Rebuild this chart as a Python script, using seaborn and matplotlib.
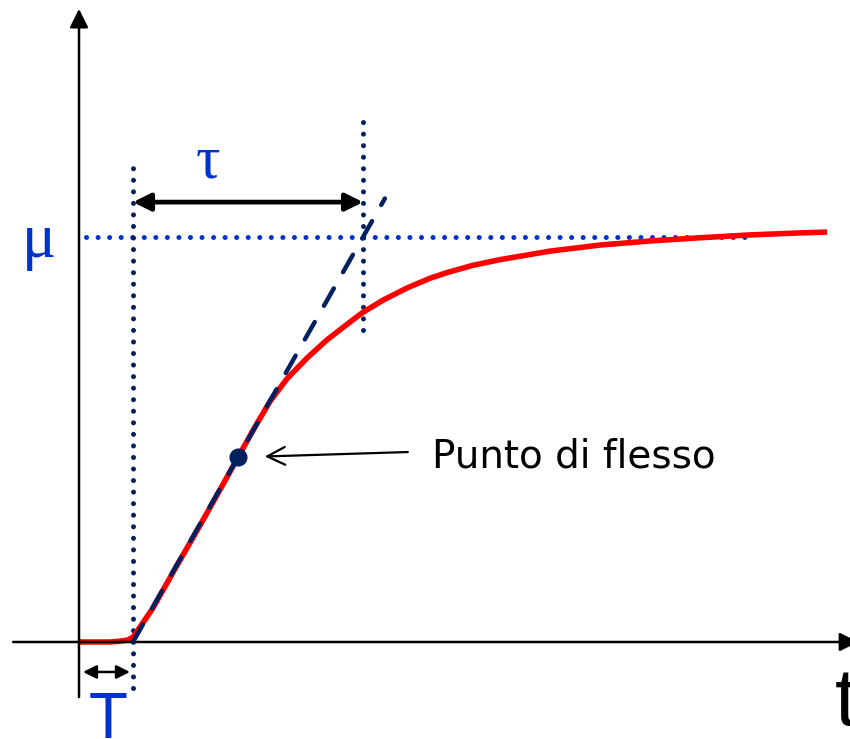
import numpy as np
import pandas as pd
import matplotlib
matplotlib.use("Agg")
import matplotlib.pyplot as plt
import seaborn as sns

# Step response of the process (time in s, output normalised to the final value)
t_resp = [0.000, 0.574, 0.796, 0.907, 1.000, 1.130, 1.370, 1.741, 2.241, 2.611,
          2.944, 3.259, 3.537, 3.852, 4.222, 4.593, 5.019, 5.259, 5.630, 6.074,
          6.500, 6.815, 7.296, 7.796, 8.722, 9.648, 10.574, 11.500, 12.426,
          13.352, 13.852]
y_resp = [0.000, 0.000, 0.0025, 0.005, 0.012, 0.037, 0.084, 0.172, 0.288, 0.376,
          0.456, 0.531, 0.594, 0.650, 0.701, 0.746, 0.790, 0.814, 0.844, 0.874,
          0.898, 0.912, 0.930, 0.944, 0.965, 0.980, 0.990, 0.998, 1.005,
          1.010, 1.012]

# Identified model parameters
T_delay = 1.0      # dead time T
tau = 4.26         # time constant tau
mu = 1.0           # static gain mu
t_flex = 2.944     # inflection point
y_flex = 0.456

sns.set_style("white")
plt.rcParams["font.family"] = ["Liberation Sans", "DejaVu Sans"]

fig = plt.figure(figsize=(8.5, 7.39), dpi=100)
ax = fig.add_axes([0, 0, 1, 1])

navy = "#002060"
blue = "#0033cc"
dots = (0, (0.01, 2.3))

# Response curve
df = pd.DataFrame({"t": t_resp, "y": y_resp})
sns.lineplot(data=df, x="t", y="y", ax=ax, color="#ff0000", lw=4.0,
             sort=False, zorder=3, solid_joinstyle="round",
             solid_capstyle="butt")

ax.set_xlim(-1.463, 14.278)
ax.set_ylim(-0.2395, 1.585)
ax.axis("off")

# Coordinate axes with arrow heads
ax.annotate("", xy=(14.43, 0.0), xytext=(-1.22, 0.0), annotation_clip=False,
            arrowprops=dict(arrowstyle="-|>", color="black", lw=1.8,
                            mutation_scale=28, shrinkA=0, shrinkB=0))
ax.annotate("", xy=(0.0, 1.563), xytext=(0.0, -0.136), annotation_clip=False,
            arrowprops=dict(arrowstyle="-|>", color="black", lw=1.8,
                            mutation_scale=28, shrinkA=0, shrinkB=0))

# Reference level mu
ax.plot([0.13, 12.37], [mu, mu], color=blue, lw=3.6, linestyle=dots,
        dash_capstyle="round", zorder=2)
# Vertical markers at T and T + tau
ax.plot([T_delay, T_delay], [-0.114, 1.178], color=navy, lw=3.6, linestyle=dots,
        dash_capstyle="round", zorder=2)
ax.plot([T_delay + tau, T_delay + tau], [0.770, 1.301], color=navy, lw=3.6,
        linestyle=dots, dash_capstyle="round", zorder=2)

# Tangent at the inflection point
t_tan = np.array([T_delay, T_delay + 1.095 * tau])
y_tan = mu * (t_tan - T_delay) / tau
ax.plot(t_tan, y_tan, color=navy, lw=3.2, linestyle=(0, (4.5, 4.2)),
        dash_capstyle="round", zorder=4)

# Inflection point
ax.plot([t_flex], [y_flex], "o", color=navy, ms=12, zorder=5)
ax.annotate("", xy=(3.44, 0.458), xytext=(6.09, 0.469),
            arrowprops=dict(arrowstyle="->", color="black", lw=1.6,
                            mutation_scale=32, shrinkA=0, shrinkB=0))
ax.text(6.54, 0.457, "Punto di flesso", fontsize=28, ha="left", va="center",
        color="black", family=["DejaVu Sans"])

# Time constant arrow
ax.annotate("", xy=(T_delay + tau, 1.086), xytext=(T_delay, 1.086),
            arrowprops=dict(arrowstyle="<|-|>", color="black", lw=3.4,
                            mutation_scale=26, shrinkA=0, shrinkB=0))
ax.text(2.39, 1.146, "τ", fontsize=44, ha="center", va="baseline", color=blue,
        family=["Liberation Serif", "DejaVu Serif"])

# Dead time arrow
ax.annotate("", xy=(0.944, -0.074), xytext=(0.074, -0.074),
            arrowprops=dict(arrowstyle="<|-|>", color="black", lw=1.8,
                            mutation_scale=20, shrinkA=0, shrinkB=0))
ax.text(0.546, -0.121, "T", fontsize=46, ha="center", va="top", color=blue)

# Gain label and time label
ax.text(-1.056, 0.951, "μ", fontsize=46, ha="left", va="baseline", color=blue,
        family=["Liberation Serif", "DejaVu Serif"])
ax.text(14.0, -0.205, "t", fontsize=58, ha="left", va="baseline", color="black")

fig.savefig("out.png", dpi=100)
